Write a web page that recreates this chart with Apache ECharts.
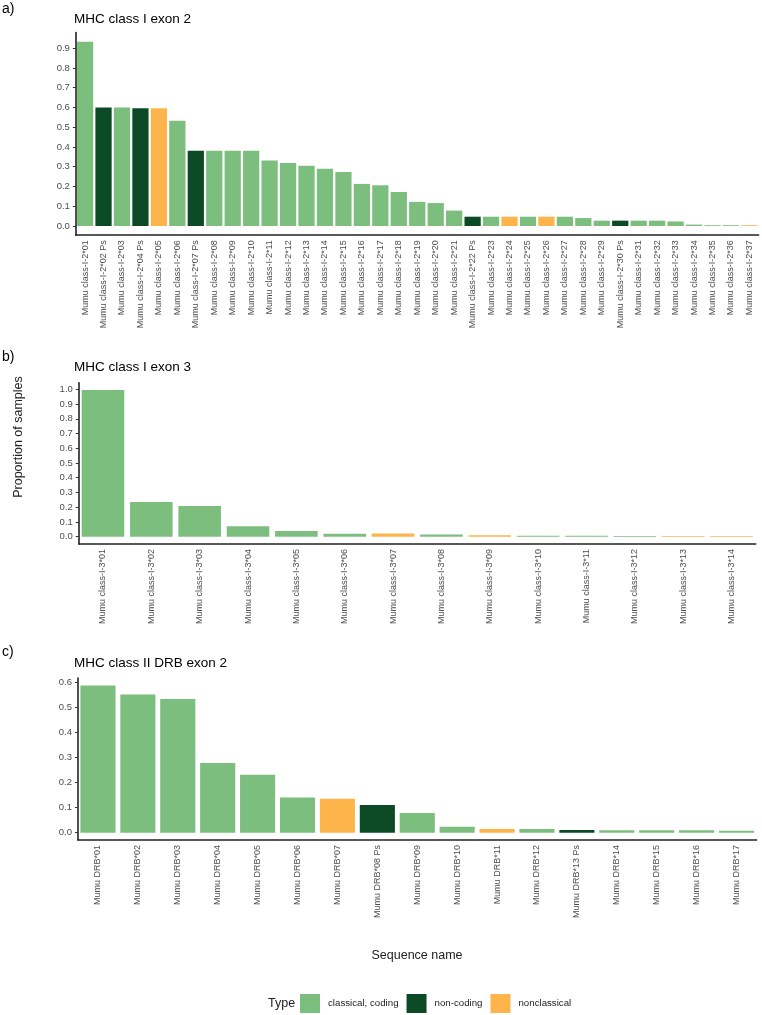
<!DOCTYPE html>
<html>
<head>
<meta charset="utf-8">
<script src="https://cdn.jsdelivr.net/npm/echarts@6/dist/echarts.min.js"></script>
<style>
  body { margin: 0; background: #fff; }
  #chart { width: 762px; height: 1015px; }
</style>
</head>
<body>
<div id="chart"></div>
<script>
  // type index: 0 = classical, coding / 1 = non-coding / 2 = nonclassical
  var typeNames = ['classical, coding', 'non-coding', 'nonclassical'];
  var typeColors = ['#7cbe7e', '#0b4a25', '#fdb44b'];

  // a) MHC class I exon 2
  var exon2Names = ['Mumu class-I-2*01', 'Mumu class-I-2*02 Ps', 'Mumu class-I-2*03', 'Mumu class-I-2*04 Ps',
    'Mumu class-I-2*05', 'Mumu class-I-2*06', 'Mumu class-I-2*07 Ps', 'Mumu class-I-2*08', 'Mumu class-I-2*09',
    'Mumu class-I-2*10', 'Mumu class-I-2*11', 'Mumu class-I-2*12', 'Mumu class-I-2*13', 'Mumu class-I-2*14',
    'Mumu class-I-2*15', 'Mumu class-I-2*16', 'Mumu class-I-2*17', 'Mumu class-I-2*18', 'Mumu class-I-2*19',
    'Mumu class-I-2*20', 'Mumu class-I-2*21', 'Mumu class-I-2*22 Ps', 'Mumu class-I-2*23', 'Mumu class-I-2*24',
    'Mumu class-I-2*25', 'Mumu class-I-2*26', 'Mumu class-I-2*27', 'Mumu class-I-2*28', 'Mumu class-I-2*29',
    'Mumu class-I-2*30 Ps', 'Mumu class-I-2*31', 'Mumu class-I-2*32', 'Mumu class-I-2*33', 'Mumu class-I-2*34',
    'Mumu class-I-2*35', 'Mumu class-I-2*36', 'Mumu class-I-2*37'];
  var exon2Values = [0.932, 0.6, 0.6, 0.596, 0.596, 0.533, 0.381, 0.381, 0.381, 0.381,
    0.331, 0.319, 0.305, 0.29, 0.273, 0.213, 0.206, 0.172, 0.122, 0.116,
    0.078, 0.047, 0.047, 0.047, 0.047, 0.047, 0.047, 0.04, 0.027, 0.027,
    0.027, 0.027, 0.023, 0.007, 0.004, 0.004, 0.004];
  var exon2Types = [0, 1, 0, 1, 2, 0, 1, 0, 0, 0, 0, 0, 0, 0, 0, 0, 0, 0, 0, 0,
    0, 1, 0, 2, 0, 2, 0, 0, 0, 1, 0, 0, 0, 0, 0, 0, 2];
  var exon2Ticks = [0, 0.1, 0.2, 0.3, 0.4, 0.5, 0.6, 0.7, 0.8, 0.9];

  // b) MHC class I exon 3
  var exon3Names = ['Mumu class-I-3*01', 'Mumu class-I-3*02', 'Mumu class-I-3*03', 'Mumu class-I-3*04',
    'Mumu class-I-3*05', 'Mumu class-I-3*06', 'Mumu class-I-3*07', 'Mumu class-I-3*08', 'Mumu class-I-3*09',
    'Mumu class-I-3*10', 'Mumu class-I-3*11', 'Mumu class-I-3*12', 'Mumu class-I-3*13', 'Mumu class-I-3*14'];
  var exon3Values = [0.995, 0.235, 0.208, 0.07, 0.038, 0.02, 0.022, 0.015, 0.01, 0.007, 0.007, 0.005, 0.005, 0.005];
  var exon3Types = [0, 0, 0, 0, 0, 0, 2, 0, 2, 0, 0, 0, 2, 2];
  var exon3Ticks = [0, 0.1, 0.2, 0.3, 0.4, 0.5, 0.6, 0.7, 0.8, 0.9, 1.0];

  // c) MHC class II DRB exon 2
  var drbNames = ['Mumu DRB*01', 'Mumu DRB*02', 'Mumu DRB*03', 'Mumu DRB*04', 'Mumu DRB*05', 'Mumu DRB*06',
    'Mumu DRB*07', 'Mumu DRB*08 Ps', 'Mumu DRB*09', 'Mumu DRB*10', 'Mumu DRB*11', 'Mumu DRB*12',
    'Mumu DRB*13 Ps', 'Mumu DRB*14', 'Mumu DRB*15', 'Mumu DRB*16', 'Mumu DRB*17'];
  var drbValues = [0.589, 0.553, 0.535, 0.279, 0.232, 0.141, 0.136, 0.111, 0.079, 0.024,
    0.015, 0.015, 0.011, 0.01, 0.01, 0.01, 0.008];
  var drbTypes = [0, 0, 0, 0, 0, 0, 2, 1, 0, 0, 2, 0, 1, 0, 0, 0, 0];
  var drbTicks = [0, 0.1, 0.2, 0.3, 0.4, 0.5, 0.6];

  var FONT = 'Liberation Sans, Arial, sans-serif';

  var panels = [
    { tag: 'a)', title: 'MHC class I exon 2', names: exon2Names, values: exon2Values, types: exon2Types, ticks: exon2Ticks,
      grid: { left: 75.85, width: 682.8, top: 32.6, height: 202.6 }, tagTop: 2, titleTop: 12 },
    { tag: 'b)', title: 'MHC class I exon 3', names: exon3Names, values: exon3Values, types: exon3Types, ticks: exon3Ticks,
      grid: { left: 78.8, width: 676.9, top: 382.7, height: 161.3 }, tagTop: 350, titleTop: 360 },
    { tag: 'c)', title: 'MHC class II DRB exon 2', names: drbNames, values: drbValues, types: drbTypes, ticks: drbTicks,
      grid: { left: 78.0, width: 678.5, top: 678.1, height: 161.9 }, tagTop: 645, titleTop: 656 }
  ];

  var grids = [], xAxes = [], yAxes = [], series = [], titles = [];

  panels.forEach(function (p, k) {
    var maxV = Math.max.apply(null, p.values);
    var pad = maxV * 0.05; // ggplot-like 5% expansion
    grids.push(p.grid);
    titles.push({ text: p.tag, left: 2, top: p.tagTop, padding: 0,
      textStyle: { fontFamily: FONT, fontSize: 14, fontWeight: 'normal', color: '#000' } });
    titles.push({ text: p.title, left: 74, top: p.titleTop, padding: 0,
      textStyle: { fontFamily: FONT, fontSize: 13.5, fontWeight: 'normal', color: '#000' } });
    xAxes.push({
      type: 'category', gridIndex: k, data: p.names,
      axisLine: { onZero: false, lineStyle: { color: '#222', width: 1.6 } },
      axisTick: { alignWithLabel: true, length: 3, lineStyle: { color: '#333' } },
      axisLabel: { rotate: 90, margin: 5, fontSize: 9, fontFamily: FONT, color: '#4d4d4d', interval: 0 },
      splitLine: { show: false }
    });
    yAxes.push({
      type: 'value', gridIndex: k, min: -pad, max: maxV + pad,
      axisLine: { show: true, lineStyle: { color: '#222', width: 1.6 } },
      axisTick: { show: true, length: 3, customValues: p.ticks, lineStyle: { color: '#333' } },
      axisLabel: { customValues: p.ticks, margin: 6, fontSize: 9.5, fontFamily: FONT, color: '#4d4d4d',
        formatter: function (v) { return v.toFixed(1); } },
      splitLine: { show: false }
    });
    typeNames.forEach(function (t, ti) {
      series.push({
        type: 'bar', name: t, xAxisIndex: k, yAxisIndex: k,
        barGap: '-100%', barCategoryGap: '12%',
        itemStyle: { color: typeColors[ti] },
        emphasis: { disabled: true },
        data: p.values.map(function (v, i) { return p.types[i] === ti ? v : '-'; })
      });
    });
  });

  var myChart = echarts.init(document.getElementById('chart'));
  var option = {
    animation: false,
    title: titles,
    grid: grids,
    xAxis: xAxes,
    yAxis: yAxes,
    legend: {
      data: typeNames, left: 300, top: 994, padding: 0,
      itemWidth: 20, itemHeight: 19, itemGap: 8, icon: 'rect',
      textStyle: { fontFamily: FONT, fontSize: 9.7, color: '#222', padding: [0, 0, 0, 3] }
    },
    graphic: [
      { type: 'text', x: 19, y: 437, rotation: Math.PI / 2,
        style: { text: 'Proportion of samples', fontFamily: FONT, fontSize: 12.5, fill: '#222', align: 'center', verticalAlign: 'middle' } },
      { type: 'text', x: 417, y: 956,
        style: { text: 'Sequence name', fontFamily: FONT, fontSize: 12.5, fill: '#222', align: 'center', verticalAlign: 'middle' } },
      { type: 'text', x: 268, y: 1004,
        style: { text: 'Type', fontFamily: FONT, fontSize: 12.5, fill: '#222', align: 'left', verticalAlign: 'middle' } }
    ],
    series: series
  };
  myChart.setOption(option);
</script>
</body>
</html>
